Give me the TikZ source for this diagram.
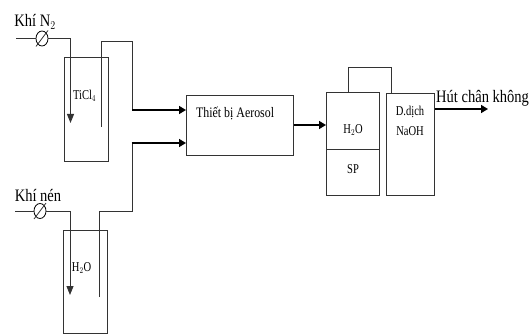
\documentclass[tikz,border=0pt]{standalone}
\usepackage{fontspec}
\setmainfont{Liberation Serif}
\usepackage{tikz}
\usetikzlibrary{calc, positioning, arrows.meta, shapes.geometric}
\tikzset{
  line/.style={line width=0.8pt, black!80},
  flow/.style={line width=1.5pt, -{Triangle[length=7pt,width=8pt]}},
  drop/.style={line width=0.9pt, black!80, -{Triangle[length=9pt,width=7pt]}},
  vessel/.style={draw, line width=0.8pt, black!80, minimum width=#1, inner sep=0pt, anchor=north west},
  valve/.style={draw, ellipse, line width=0.8pt, minimum width=12pt, minimum height=15pt, inner sep=0pt},
  big/.style={font=\fontsize{17.5}{17.5}\selectfont, inner sep=0pt, xscale=0.83, transform shape},
  mid/.style={font=\fontsize{14.5}{14.5}\selectfont, inner sep=0pt, xscale=0.82, transform shape},
  small/.style={font=\fontsize{13.5}{13.5}\selectfont, inner sep=0pt, xscale=0.78, transform shape}
}
\begin{document}
\begin{tikzpicture}[x=1pt, y=-1pt]
  \useasboundingbox (0,0) rectangle (532,334);

  % --- TiCl4 tank ---
  \node[vessel=44pt, minimum height=104pt] (tankA) at (63.5,57) {};
  \node[small] (tiA) at (84.5,96) {TiCl$_4$};
  \node[big] (gasA) at (35,22) {Khí N$_2$};
  \coordinate (inA) at (16,38.5);
  \node[valve] (valveA) at (42,38.5) {};
  \draw[line] ($(valveA)+(-6,8)$) -- ($(valveA)+(6,-8)$);
  \coordinate (bendA) at (70.5,38.5);
  \coordinate (endA) at (70.5,123);
  \draw[line] (inA) -- (valveA) -- (bendA);
  \draw[drop] (bendA) -- (endA);

  % --- H2O tank ---
  \node[vessel=44pt, minimum height=103pt] (tankB) at (63,229.5) {};
  \node[small] (waterB) at (81.5,268) {H$_2$O};
  \node[big] (gasB) at (38,196) {Khí nén};
  \coordinate (inB) at (15,211);
  \node[valve] (valveB) at (40,211) {};
  \draw[line] ($(valveB)+(-6,8)$) -- ($(valveB)+(6,-8)$);
  \coordinate (bendB) at (70,211);
  \coordinate (endB) at (70,295);
  \draw[line] (inB) -- (valveB) -- (bendB);
  \draw[drop] (bendB) -- (endB);

  % --- Aerosol box ---
  \node[vessel=107pt, minimum height=60pt] (aerosol) at (186,95) {};
  \node[mid, anchor=west] (aerosolText) at (196,113) {Thiết bị Aerosol};

  % outlet pipes into the box
  \coordinate (pipeA) at (101,126.5);
  \coordinate (pipeB) at (99,297);
  \draw[line] (pipeA) |- (132.5,41) -- (132.5,110);
  \draw[flow] (132,110) -- (aerosol.west |- 0,110);
  \draw[line] (pipeB) |- (132,211) -- (132,143);
  \draw[flow] (131.5,143) -- (aerosol.west |- 0,143);

  % --- Washing column ---
  \node[vessel=53pt, minimum height=103pt] (column) at (326,92) {};
  \coordinate (splitL) at (326,149);
  \coordinate (splitR) at (379.5,149);
  \draw[line] (splitL) -- (splitR);
  \node[small] (waterC) at (353,130) {H$_2$O};
  \node[small] (prodC) at (353,169) {SP};
  \draw[flow] (aerosol.east |- 0,125) -- (column.west |- 0,125);

  % --- NaOH box ---
  \node[vessel=48pt, minimum height=102pt] (naoh) at (386,93) {};
  \node[small] (naohA) at (410,112) {D.dịch};
  \node[small] (naohB) at (410,131) {NaOH};
  \coordinate (loopL) at (348,67);
  \coordinate (loopR) at (391,67);
  \draw[line] (column.north -| loopL) -- (loopL) -- (loopR) -- (naoh.north -| loopR);

  % --- Vacuum outlet ---
  \coordinate (vacuum) at (488,109);
  \draw[flow] (naoh.east |- vacuum) -- (vacuum);
  \node[big, anchor=west] (vacuumText) at (436,98) {Hút chân không};
\end{tikzpicture}
\end{document}
